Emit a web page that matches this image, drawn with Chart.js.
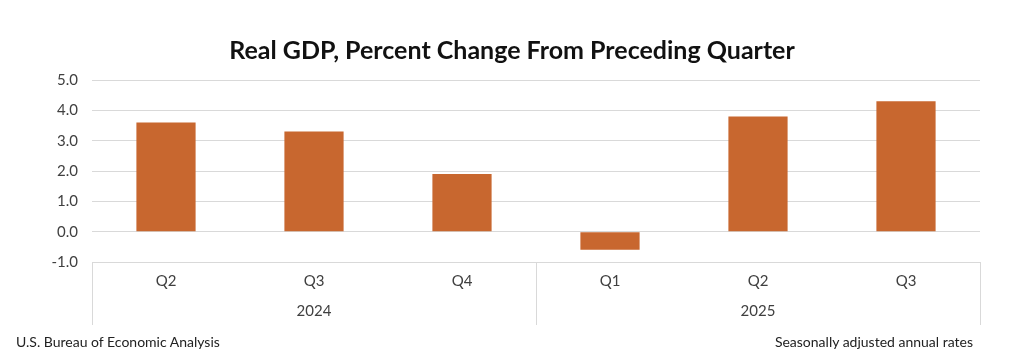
<!DOCTYPE html>
<html>
<head>
<meta charset="utf-8">
<script src="https://cdn.jsdelivr.net/npm/chart.js@4"></script>
<style>
  html, body { margin: 0; padding: 0; background: #fff; }
  .wrap { position: relative; width: 1024px; height: 360px; }
  canvas { position: absolute; left: 0; top: 0; }
  .note { position: absolute; top: 333px; font: 14px Lato, sans-serif; color: #222; }
  .note--left { left: 16px; }
  .note--right { right: 51px; }
</style>
</head>
<body>
<div class="wrap">
  <canvas id="gdp-chart" width="1024" height="360"></canvas>
  <div class="note note--left">U.S. Bureau of Economic Analysis</div>
  <div class="note note--right">Seasonally adjusted annual rates</div>
</div>
<script>
const quarters = ["Q2", "Q3", "Q4", "Q1", "Q2", "Q3"];
const years = ["2024", "2025"];
const gdpChange = [3.6, 3.3, 1.9, -0.6, 3.8, 4.3];

const barColor = "#c8672f";
const gridColor = "#d9d9d9";
const textColor = "#404040";
const fontFamily = "Lato, 'Open Sans', sans-serif";

// draws the category box under the plot, with a divider between years
const categoryBox = {
  id: "categoryBox",
  afterDraw(chart) {
    const { ctx, chartArea, scales } = chart;
    const x = scales.x;
    const bottom = scales.x2.bottom;
    const split = (x.getPixelForValue(2) + x.getPixelForValue(3)) / 2;
    ctx.save();
    ctx.strokeStyle = gridColor;
    ctx.lineWidth = 1;
    ctx.beginPath();
    [chartArea.left, split, chartArea.right].forEach((px) => {
      const p = Math.round(px) + 0.5;
      ctx.moveTo(p, chartArea.bottom);
      ctx.lineTo(p, bottom);
    });
    ctx.stroke();
    ctx.restore();
  },
};

new Chart(document.getElementById("gdp-chart"), {
  type: "bar",
  data: {
    labels: quarters,
    datasets: [{
      data: gdpChange,
      backgroundColor: barColor,
      borderWidth: 0,
      barPercentage: 0.8,
      categoryPercentage: 0.5,
    }],
  },
  options: {
    responsive: false,
    animation: false,
    layout: { padding: { left: 44, right: 44, top: 36, bottom: 35 } },
    plugins: {
      legend: { display: false },
      tooltip: { enabled: false },
      title: {
        display: true,
        text: "Real GDP, Percent Change From Preceding Quarter",
        color: "#111",
        font: { family: fontFamily, size: 25, weight: "bold" },
        padding: { top: 0, bottom: 14 },
      },
    },
    scales: {
      y: {
        min: -1,
        max: 5,
        ticks: {
          stepSize: 1,
          color: textColor,
          padding: 14,
          font: { family: fontFamily, size: 15 },
          callback: (v) => v.toFixed(1),
        },
        grid: { color: gridColor, drawTicks: false },
        border: { display: false },
        afterFit: (s) => { s.width = 48; },
      },
      x: {
        ticks: { color: textColor, padding: 2, font: { family: fontFamily, size: 15 } },
        grid: { display: false },
        border: { display: false },
        afterFit: (s) => { s.height = 32; },
      },
      x2: {
        type: "category",
        labels: years,
        offset: true,
        position: "bottom",
        ticks: { color: textColor, padding: 0, font: { family: fontFamily, size: 15 } },
        grid: { display: false },
        border: { display: false },
        afterFit: (s) => { s.height = 31; },
      },
    },
  },
  plugins: [categoryBox],
});
</script>
</body>
</html>
